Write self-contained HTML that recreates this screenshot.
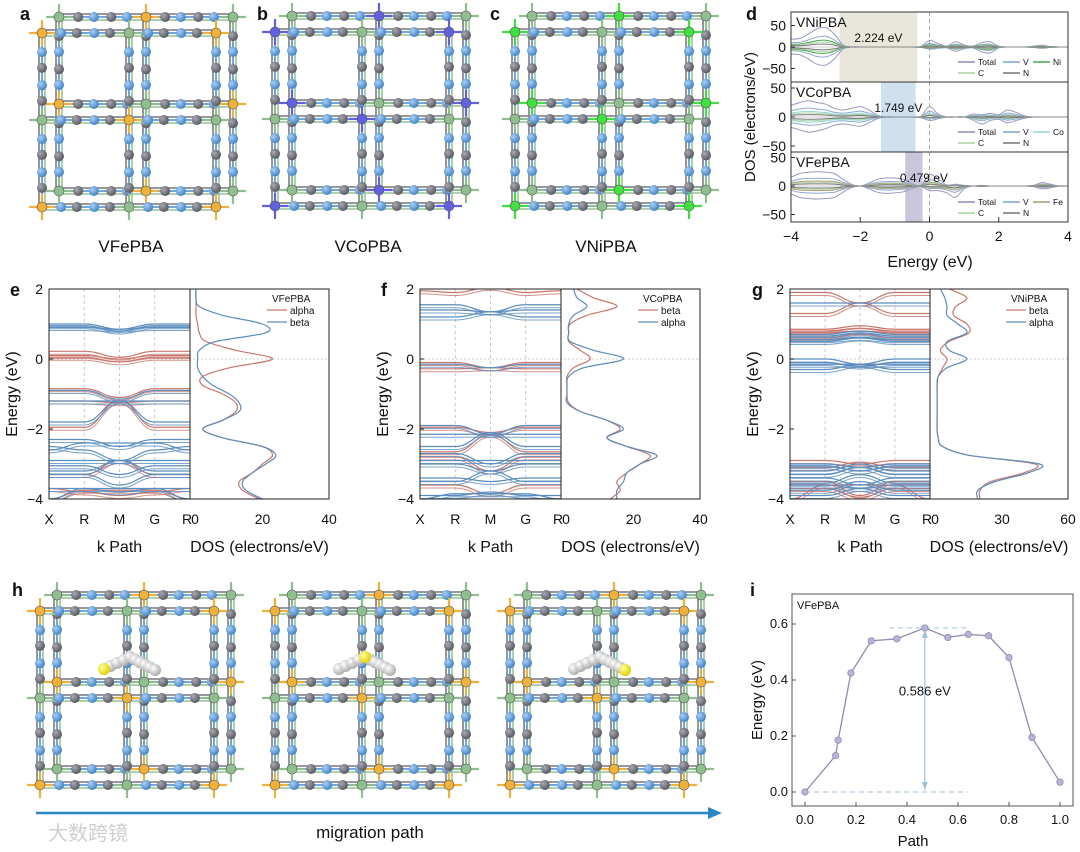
<!DOCTYPE html>
<html><head><meta charset="utf-8">
<style>
html,body{margin:0;padding:0;background:#fff;}
svg{display:block;font-family:"Liberation Sans",Arial,sans-serif;}
</style></head>
<body>
<svg id="fig" width="1080" height="852" viewBox="0 0 1080 852" xmlns="http://www.w3.org/2000/svg">
<defs>
<radialGradient id="gB" cx="35%" cy="35%" r="70%"><stop offset="0" stop-color="#a9cff5"/><stop offset="1" stop-color="#3f7fc4"/></radialGradient>
<radialGradient id="gG" cx="35%" cy="35%" r="70%"><stop offset="0" stop-color="#a8a8b0"/><stop offset="1" stop-color="#55555e"/></radialGradient>
<radialGradient id="gW" cx="35%" cy="35%" r="70%"><stop offset="0" stop-color="#ffffff"/><stop offset="1" stop-color="#a8a8a8"/></radialGradient>
<radialGradient id="gY" cx="35%" cy="35%" r="70%"><stop offset="0" stop-color="#ffff99"/><stop offset="1" stop-color="#e0d000"/></radialGradient>
</defs>
</svg>
<script>
// ---------- data ----------
const pathX = [0,0.12,0.13,0.18,0.26,0.36,0.47,0.56,0.64,0.72,0.80,0.89,1.0];
const pathE = [0,0.13,0.185,0.425,0.54,0.547,0.586,0.552,0.563,0.558,0.48,0.195,0.035];
const pathYTicks = [0.0,0.2,0.4,0.6];
const pathXTicks = [0.0,0.2,0.4,0.6,0.8,1.0];
const dE = [-4,-3.75,-3.5,-3.25,-3,-2.75,-2.5,-2.25,-2,-1.75,-1.5,-1.25,-1,-0.75,-0.5,-0.25,0,0.25,0.5,0.75,1,1.25,1.5,1.75,2,2.25,2.5,2.75,3,3.25,3.5,3.75,4];
const niUp = [18,20,30,42,45,30,5,0,0,0,0,0,0,0,0,1,15,8,2,12,5,2,10,12,2,0,0,0,2,4,1,0,0];
const niDn = [16,18,28,40,42,28,5,0,0,0,0,0,0,0,0,1,5,3,2,10,4,2,11,14,2,0,0,0,1,3,1,0,0];
const coUp = [20,25,28,25,22,15,12,15,18,12,3,0,0,0,0,1,18,5,0,0,0,5,4,6,4,12,8,2,0,0,0,0,0];
const coDn = [18,22,26,24,20,14,12,14,16,10,3,0,0,0,0,1,6,3,0,0,0,5,12,6,4,10,6,2,0,0,0,0,0];
const feUp = [15,22,24,25,24,22,12,3,0,5,12,14,14,12,4,1,20,12,2,3,1,0,1,0,0,0,0,0,1,6,3,0,0];
const feDn = [14,20,22,23,22,20,11,3,0,5,11,13,12,10,4,1,8,8,12,20,5,0,1,0,0,0,0,0,1,5,3,0,0];
const dYTicks = [50,0,-50];
const dXTicks = [-4,-2,0,2,4];
const gapNi = [-2.6,-0.35], gapCo = [-1.4,-0.4], gapFe = [-0.7,-0.2];
const sE = [2,1.75,1.5,1.25,1,0.75,0.5,0.25,0,-0.25,-0.5,-0.75,-1,-1.25,-1.5,-1.75,-2,-2.25,-2.5,-2.75,-3,-3.25,-3.5,-3.75,-4];
const eAlpha = [0,0,0,0,0.5,1,3,12,23,10,2,2,8,12,12,8,2,8,20,23,20,17,13,14,19];
const eBeta  = [0,0,1,8,20,21,6,1,0.5,0.5,2,5,10,13,13,8,2,8,20,24,21,17,14,15,20];
const fBeta  = [3,8,15,6,1,0.5,0.5,4,7,2,0,0,0,0.5,4,12,16,12,18,25,22,18,15,16,13];
const fAlpha = [2,3,6,2,0.5,0.5,1,8,17,5,0.5,0,0,0,4,12,17,12,18,27,22,18,17,15,15];
const gBeta  = [6,14,9,8,14,15,6,2,5,3,1,0.5,0.5,0.5,0.5,0.5,0.5,1,3,15,45,40,25,20,20];
const gAlpha = [2,4,5,5,10,14,5,6,14,5,1,0.5,0.5,0.5,0.5,0.5,0.5,1,3,15,47,42,27,19,19];
const kLabels = ["X","R","M","G","R"];
const eTicks = [2,0,-2,-4];
const eRed = [[0.22,0.22,0.05,0.22,0.22],[0.1,0.1,0,0.1,0.1],[0.05,0.05,-0.08,0.05,0.05],[-0.85,-0.85,-1.1,-0.85,-0.85],[-1.95,-1.95,-1.2,-1.95,-1.95],[-1.2,-1.2,-1.25,-1.2,-1.2],[-3.3,-3.3,-2.9,-3.3,-3.3],[-3.7,-3.8,-3.9,-3.8,-3.7],[-4,-3.75,-3.75,-3.75,-4]];
const eBlue = [[0.95,0.95,0.8,0.95,0.95],[1.0,1.0,0.85,1.0,1.0],[0.9,0.9,0.85,0.9,0.9],[-0.9,-0.9,-1.15,-0.9,-0.9],[-1.8,-1.8,-1.2,-1.8,-1.8],[-1.2,-1.2,-1.2,-1.2,-1.2],[-2.3,-2.3,-2.5,-2.3,-2.3],[-2.5,-2.6,-2.9,-2.6,-2.5],[-2.6,-2.4,-2.4,-2.4,-2.6],[-2.9,-2.9,-2.9,-2.9,-2.9],[-3.2,-3.2,-2.9,-3.2,-3.2],[-3.3,-3.3,-3.6,-3.3,-3.3],[-3.05,-3.05,-3.3,-3.05,-3.05],[-3.7,-3.7,-3.8,-3.7,-3.7],[-4.0,-3.7,-3.7,-3.7,-4.0]];
const fRed = [[1.95,1.9,2.05,1.9,1.95],[-0.1,-0.1,-0.25,-0.1,-0.1],[-0.28,-0.28,-0.25,-0.28,-0.28],[-2.65,-2.65,-2.15,-2.65,-2.65],[-1.95,-1.95,-2.1,-1.95,-1.95],[-3.6,-3.6,-3.85,-3.6,-3.6],[-2.8,-2.8,-3.2,-2.8,-2.8]];
const fBlue = [[1.55,1.55,1.35,1.55,1.55],[1.2,1.2,1.35,1.2,1.2],[1.4,1.4,1.35,1.4,1.4],[-0.15,-0.15,-0.25,-0.15,-0.15],[-1.9,-1.9,-2.15,-1.9,-1.9],[-2.5,-2.5,-2.1,-2.5,-2.5],[-2.15,-2.15,-2.15,-2.15,-2.15],[-2.7,-2.7,-3.0,-2.7,-2.7],[-2.9,-2.9,-2.9,-2.9,-2.9],[-3.0,-3.0,-3.2,-3.0,-3.0],[-3.5,-3.5,-3.2,-3.5,-3.5],[-3.4,-3.4,-3.5,-3.4,-3.4],[-3.9,-3.9,-3.8,-3.9,-3.9],[-4.0,-3.85,-3.85,-3.85,-4.0]];
const gRed = [[1.9,1.9,1.6,1.9,1.9],[1.3,1.3,1.6,1.3,1.3],[0.85,0.85,0.95,0.85,0.85],[0.8,0.8,0.88,0.8,0.8],[0.75,0.75,0.8,0.75,0.75],[0.6,0.6,0.7,0.6,0.6],[-2.9,-2.9,-3.0,-2.9,-2.9],[-3.1,-3.1,-2.95,-3.1,-3.1],[-3.5,-3.5,-3.9,-3.5,-3.5],[-3.7,-3.7,-3.95,-3.7,-3.7],[-4.0,-3.6,-3.6,-3.6,-4.0]];
const gBlue = [[1.6,1.6,1.6,1.6,1.6],[0.7,0.7,0.8,0.7,0.7],[0.65,0.65,0.75,0.65,0.65],[0.55,0.55,0.62,0.55,0.55],[0.5,0.5,0.6,0.5,0.5],[0,0,-0.15,0,0],[-0.3,-0.3,-0.15,-0.3,-0.3],[-0.15,-0.15,-0.15,-0.15,-0.15],[-0.1,-0.1,-0.2,-0.1,-0.1],[-3.0,-3.0,-3.1,-3.0,-3.0],[-3.05,-3.05,-3.2,-3.05,-3.05],[-3.2,-3.2,-3.0,-3.2,-3.2],[-3.3,-3.3,-3.1,-3.3,-3.3],[-3.4,-3.4,-3.6,-3.4,-3.4],[-3.55,-3.55,-3.3,-3.55,-3.55],[-3.6,-3.6,-3.7,-3.6,-3.6],[-3.75,-3.75,-3.5,-3.75,-3.75],[-3.9,-3.9,-3.7,-3.9,-3.9]];

// ---------- helpers ----------
const NS="http://www.w3.org/2000/svg";
const svg=document.getElementById('fig');
function el(tag,attrs,parent){const e=document.createElementNS(NS,tag);for(const k in attrs)e.setAttribute(k,attrs[k]);(parent||svg).appendChild(e);return e;}
function txt(s,x,y,size,anchor,parent,extra){const t=el('text',Object.assign({x:x,y:y,'font-size':size,'text-anchor':anchor||'start',fill:'#111'},extra||{}),parent);t.textContent=s;return t;}
function smooth(pts){let d='M'+pts[0][0].toFixed(1)+','+pts[0][1].toFixed(1);for(let i=0;i<pts.length-1;i++){const p0=pts[i-1]||pts[i],p1=pts[i],p2=pts[i+1],p3=pts[i+2]||p2;const c1=[p1[0]+(p2[0]-p0[0])/6,p1[1]+(p2[1]-p0[1])/6],c2=[p2[0]-(p3[0]-p1[0])/6,p2[1]-(p3[1]-p1[1])/6];d+='C'+c1[0].toFixed(1)+','+c1[1].toFixed(1)+' '+c2[0].toFixed(1)+','+c2[1].toFixed(1)+' '+p2[0].toFixed(1)+','+p2[1].toFixed(1);}return d;}

// ---------- lattice ----------
function lattice(ox,oy,metal,name){
  const g=el('g',{});
  
  
  const s=87;
  const layers=[[17,-16],[0,0]];
  layers.forEach((off,li)=>{
    const nodes=[];
    for(let j=0;j<3;j++)for(let i=0;i<3;i++)nodes.push([ox+off[0]+i*s,oy+off[1]+j*s,(i+j+li)%2]);
    const node=(i,j)=>nodes[j*3+i];
    const edges=[];
    for(let j=0;j<3;j++)for(let i=0;i<2;i++)edges.push([node(i,j),node(i+1,j)]);
    for(let i=0;i<3;i++)for(let j=0;j<2;j++)edges.push([node(i,j),node(i,j+1)]);
    edges.forEach(([a,b])=>{
      const horiz=a[1]===b[1];
      const dx=horiz?0:3,dy=horiz?3:0;
      el('line',{x1:a[0],y1:a[1],x2:b[0],y2:b[1],stroke:'#6fa8dc','stroke-width':2},g);
      el('line',{x1:a[0]+dx,y1:a[1]+dy,x2:b[0]+dx,y2:b[1]+dy,stroke:'#9cc49c','stroke-width':1.8,opacity:0.9},g);
      el('line',{x1:a[0]-dx,y1:a[1]-dy,x2:b[0]-dx,y2:b[1]-dy,stroke:'#8a8a92','stroke-width':1.8},g);
      [0.22,0.4,0.6,0.78].forEach((t,k)=>{
        el('circle',{cx:a[0]+(b[0]-a[0])*t,cy:a[1]+(b[1]-a[1])*t,r:5,fill:(k%2===(li?0:1))?'url(#gB)':'url(#gG)'},g);
      });
    });
    nodes.forEach(n=>{
      const c=n[2]?metal:'#8fbf8f';
      el('line',{x1:n[0]-13,y1:n[1],x2:n[0]+13,y2:n[1],stroke:c,'stroke-width':2.2},g);
      el('line',{x1:n[0],y1:n[1]-13,x2:n[0],y2:n[1]+13,stroke:c,'stroke-width':2.2},g);
      el('circle',{cx:n[0],cy:n[1],r:5,fill:c,stroke:'#555','stroke-width':0.6},g);
    });
  });
  return g;
}
function chain(ox,oy,yellowAt,name){
  const g=el('g',{});
  
  
  const L=[ox+64,oy+58],A=[ox+90,oy+46],R=[ox+115,oy+59];
  const pts=[];
  for(let k=0;k<=4;k++)pts.push([L[0]+(A[0]-L[0])*k/4,L[1]+(A[1]-L[1])*k/4]);
  for(let k=1;k<=5;k++)pts.push([A[0]+(R[0]-A[0])*k/5,A[1]+(R[1]-A[1])*k/5]);
  pts.forEach(p=>el('circle',{cx:p[0],cy:p[1],r:6,fill:'url(#gW)'},g));
  const y=yellowAt==='L'?L:yellowAt==='A'?A:R;
  el('circle',{cx:y[0],cy:y[1],r:6,fill:'url(#gY)'},g);
}

function letter(s,x,y,name){const t=txt(s,x,y,18,'start',null,{'font-weight':'bold'});}

lattice(42,33,'#f0b13a','lattice-vfepba');
lattice(275,32,'#6161e0','lattice-vcopba');
lattice(515,32,'#3fe03f','lattice-vnipba');
letter('a',20,20,'panel-a-label');letter('b',257,20,'panel-b-label');letter('c',490,20,'panel-c-label');letter('d',746,20,'panel-d-label');
[['VFePBA',131],['VCoPBA',368],['VNiPBA',606]].forEach(([s,x],i)=>{const t=txt(s,x,252,17,'middle');});

lattice(40,611,'#f0b13a','lattice-migration-1');chain(40,611,'L','li-chain-1');
lattice(275,611,'#f0b13a','lattice-migration-2');chain(275,611,'A','li-chain-2');
lattice(510,611,'#f0b13a','lattice-migration-3');chain(510,611,'R','li-chain-3');
letter('h',12,596,'panel-h-label');letter('i',750,596,'panel-i-label');
{const a=el('line',{x1:36,y1:813,x2:710,y2:813,stroke:'#2b86c8','stroke-width':2.5});
const h=el('polygon',{points:'722,813 708,807 708,819',fill:'#2b86c8'});
const t=txt('migration path',370,838,17,'middle');
const w=txt('大数跨镜',48,840,20,'start',null,{fill:'#cfcfcf','font-family':'"Liberation Sans","Noto Sans CJK SC",sans-serif'});}

// ---------- panel d ----------
{
  const L=791,R=1068;
  const xs=e=>L+(e+4)/8*(R-L);
  const subs=[
    {name:'vnipba',label:'VNiPBA',top:12,bot:82,c:47,k:0.43,up:niUp,dn:niDn,gap:gapNi,gcol:'#e9e7dc',gl:'2.224 eV',m:'Ni',mc:'#4aa84a'},
    {name:'vcopba',label:'VCoPBA',top:82,bot:152,c:117,k:0.58,up:coUp,dn:coDn,gap:gapCo,gcol:'#cfe0ef',gl:'1.749 eV',m:'Co',mc:'#8fd8d8'},
    {name:'vfepba',label:'VFePBA',top:152,bot:222,c:186,k:0.57,up:feUp,dn:feDn,gap:gapFe,gcol:'#c9c6dc',gl:'0.479 eV',m:'Fe',mc:'#a89a70'}];
  subs.forEach(s=>{
    const g=el('g',{});
    
    
    el('rect',{x:xs(s.gap[0]),y:s.top,width:xs(s.gap[1])-xs(s.gap[0]),height:s.bot-s.top,fill:s.gcol},g);
    el('line',{x1:xs(0),y1:s.top,x2:xs(0),y2:s.bot,stroke:'#aaa','stroke-dasharray':'4,3'},g);
    const comps=[[1,'#9a98c0'],[0.55,'#8fa9d2'],[0.35,s.mc],[0.25,'#b3d4ab'],[0.15,'#777']];
    comps.forEach(([f,col])=>{
      el('path',{d:smooth(dE.map((e,i)=>[xs(e),s.c-s.up[i]*f*s.k])),fill:'none',stroke:col,'stroke-width':1},g);
      el('path',{d:smooth(dE.map((e,i)=>[xs(e),s.c+s.dn[i]*f*s.k])),fill:'none',stroke:col,'stroke-width':1},g);
    });
    el('line',{x1:L,y1:s.c,x2:R,y2:s.c,stroke:'#999','stroke-width':0.6},g);
    el('rect',{x:L,y:s.top,width:R-L,height:s.bot-s.top,fill:'none',stroke:'#333','stroke-width':1},g);
    txt(s.label,796,s.top+15,14,'start',g);
    txt(s.gl,(xs(s.gap[0])+xs(s.gap[1]))/2+(s.name==='vfepba'?10:0),s.top+30,12,'middle',g);
    dYTicks.forEach(v=>{const y=s.c-v*s.k;if(y<s.top-2||y>s.bot+2)return;el('line',{x1:L,y1:y,x2:L+4,y2:y,stroke:'#333'},g);txt(v===0?'0':(v<0?'−50':'50'),L-5,y+5,14,'end',g);});
    const lg=el('g',{},g);
    
    
    const ly=s.bot-17;
    [['Total','#8e8cb8',958,ly],['V','#7f9fcf',1003,ly],[s.m,s.mc,1033,ly],['C','#a9cfa0',958,ly+11],['N','#777',1003,ly+11]].forEach(([n,c,x,y])=>{
      el('line',{x1:x,y1:y-3,x2:x+17,y2:y-3,stroke:c,'stroke-width':1.5},lg);txt(n,x+20,y,8.5,'start',lg);
    });
  });
  dXTicks.forEach(v=>{el('line',{x1:xs(v),y1:222,x2:xs(v),y2:217,stroke:'#333'});txt(v<0?'−'+(-v):String(v),xs(v),241,14,'middle');});
  const yl=txt('DOS (electrons/eV)',0,0,15,'middle',null,{transform:'translate(755,117) rotate(-90)'});
  const xl=txt('Energy (eV)',930,267,16,'middle');
}

// ---------- band + DOS panels ----------
function bandPanel(o){
  const top=289,bot=499;
  const ys=e=>top+(2-e)/6*(bot-top);
  const g=el('g',{});
  
  
  const kx=i=>o.x0+i*(o.x1-o.x0)/4;
  [1,2,3].forEach(i=>el('line',{x1:kx(i),y1:top,x2:kx(i),y2:bot,stroke:'#bbb','stroke-dasharray':'3,3','stroke-width':0.8},g));
  el('line',{x1:o.x0,y1:ys(0),x2:o.x2,y2:ys(0),stroke:'#bbb','stroke-dasharray':'2,2','stroke-width':0.8},g);
  const cp=el('clipPath',{id:'cp'+o.name},g);el('rect',{x:o.x0,y:top,width:o.x1-o.x0,height:bot-top},cp);
  const bg=el('g',{'clip-path':'url(#cp'+o.name+')'},g);
  const drawBands=(arr,col)=>arr.forEach(b=>{
    let d='';for(let i=0;i<4;i++){const xa=kx(i),xb=kx(i+1),ya=ys(b[i]),yb=ys(b[i+1]);d+=(i?'':'M'+xa+','+ya)+'C'+(xa+(xb-xa)*0.45)+','+ya+' '+(xb-(xb-xa)*0.45)+','+yb+' '+xb+','+yb;}
    el('path',{d:d,fill:'none',stroke:col,'stroke-width':1.2},bg);
    el('path',{d:d,fill:'none',stroke:col,'stroke-width':1,transform:'translate(0,3)',opacity:0.8},bg);
  });
  drawBands(o.red,'#c9776d');drawBands(o.blue,'#5b8dbf');
  const dx=v=>o.x1+6+v/o.dmax*(o.x2-o.x1-6);
  const cp2=el('clipPath',{id:'cq'+o.name},g);el('rect',{x:o.x1,y:top,width:o.x2-o.x1,height:bot-top},cp2);
  const dg=el('g',{'clip-path':'url(#cq'+o.name+')'},g);
  o.dos.forEach(([arr,col])=>el('path',{d:smooth(sE.map((e,i)=>[dx(arr[i]),ys(e)])),fill:'none',stroke:col,'stroke-width':1.2},dg));
  el('rect',{x:o.x0,y:top,width:o.x2-o.x0,height:bot-top,fill:'none',stroke:'#222','stroke-width':1},g);
  el('line',{x1:o.x1,y1:top,x2:o.x1,y2:bot,stroke:'#222'},g);
  eTicks.forEach(v=>{el('line',{x1:o.x0,y1:ys(v),x2:o.x0+4,y2:ys(v),stroke:'#222'},g);txt(v<0?'−'+(-v):String(v),o.x0-6,ys(v)+5,14,'end',g);});
  kLabels.forEach((k,i)=>txt(k,kx(i)+(i===4?-3:0),524,14,'middle',g));
  o.dticks.forEach(v=>txt(String(v),dx(v)+(v===0?-1:0),524,14,'middle',g));
  txt('k Path',(o.x0+o.x1)/2,552,16,'middle',g);
  txt('DOS (electrons/eV)',(o.x1+o.x2)/2,552,16,'middle',g);
  txt('Energy (eV)',0,0,16,'middle',g,{transform:'translate('+(o.x0-32)+',394) rotate(-90)'});
  const lg=el('g',{},g);
  
  
  txt(o.label,o.x2-57,302,10,'start',lg);
  o.leg.forEach(([n,c],i)=>{el('line',{x1:o.x2-62,y1:310+i*12,x2:o.x2-42,y2:310+i*12,stroke:c,'stroke-width':1.2},lg);txt(n,o.x2-39,314+i*12,10,'start',lg);});
}
bandPanel({name:'vfepba',label:'VFePBA',x0:49,x1:190,x2:329,dmax:40,dticks:[0,20,40],red:eRed,blue:eBlue,dos:[[eAlpha,'#c9776d'],[eBeta,'#5b8dbf']],leg:[['alpha','#c9776d'],['beta','#5b8dbf']]});
bandPanel({name:'vcopba',label:'VCoPBA',x0:420,x1:561,x2:700,dmax:40,dticks:[0,20,40],red:fRed,blue:fBlue,dos:[[fBeta,'#c9776d'],[fAlpha,'#5b8dbf']],leg:[['beta','#c9776d'],['alpha','#5b8dbf']]});
bandPanel({name:'vnipba',label:'VNiPBA',x0:790,x1:930,x2:1068,dmax:60,dticks:[0,30,60],red:gRed,blue:gBlue,dos:[[gBeta,'#c9776d'],[gAlpha,'#5b8dbf']],leg:[['beta','#c9776d'],['alpha','#5b8dbf']]});
letter('e',10,296,'panel-e-label');letter('f',381,296,'panel-f-label');letter('g',752,296,'panel-g-label');

// ---------- panel i ----------
{
  const L=792,R=1073,T=594,B=806;
  const xs=v=>805+v*(1060-805);
  const ys=v=>792-v/0.6*(792-624);
  const g=el('g',{});
  
  
  el('rect',{x:L,y:T,width:R-L,height:B-T,fill:'none',stroke:'#555','stroke-width':1},g);
  const peak=Math.max(...pathE),pi=pathE.indexOf(peak);
  el('line',{x1:xs(0.33),y1:ys(peak),x2:xs(0.64),y2:ys(peak),stroke:'#9cc3dd','stroke-dasharray':'5,4'},g);
  el('line',{x1:xs(0),y1:ys(0),x2:xs(0.64),y2:ys(0),stroke:'#9cc3dd','stroke-dasharray':'5,4'},g);
  el('line',{x1:xs(pathX[pi]),y1:ys(peak)+2,x2:xs(pathX[pi]),y2:ys(0)-2,stroke:'#9cc3dd','stroke-width':1.2},g);
  el('polygon',{points:[xs(pathX[pi]),ys(peak)+2,xs(pathX[pi])-3,ys(peak)+10,xs(pathX[pi])+3,ys(peak)+10].join(','),fill:'#9cc3dd'},g);
  el('polygon',{points:[xs(pathX[pi]),ys(0)-2,xs(pathX[pi])-3,ys(0)-10,xs(pathX[pi])+3,ys(0)-10].join(','),fill:'#9cc3dd'},g);
  el('polyline',{points:pathX.map((x,i)=>xs(x)+','+ys(pathE[i])).join(' '),fill:'none',stroke:'#8e8cb0','stroke-width':1.3},g);
  pathX.forEach((x,i)=>{const c=el('circle',{cx:xs(x),cy:ys(pathE[i]),r:3.2,fill:'#b8b4d8',stroke:'#8e8cb0','stroke-width':0.8},g);});
  txt(peak.toFixed(3)+' eV',xs(pathX[pi]),ys(peak*0.62)+5,13,'middle',g);
  txt('VFePBA',797,609,11,'start',g);
  pathYTicks.forEach(v=>{el('line',{x1:L,y1:ys(v),x2:L+4,y2:ys(v),stroke:'#555'},g);txt(v.toFixed(1),L-4,ys(v)+4,13,'end',g);});
  pathXTicks.forEach(v=>{el('line',{x1:xs(v),y1:B,x2:xs(v),y2:B-4,stroke:'#555'},g);txt(v.toFixed(1),xs(v),824,13,'middle',g);});
  txt('Path',913,846,15,'middle',g);
  txt('Energy (eV)',0,0,15,'middle',g,{transform:'translate(762,700) rotate(-90)'});
}
</script>
</body></html>
